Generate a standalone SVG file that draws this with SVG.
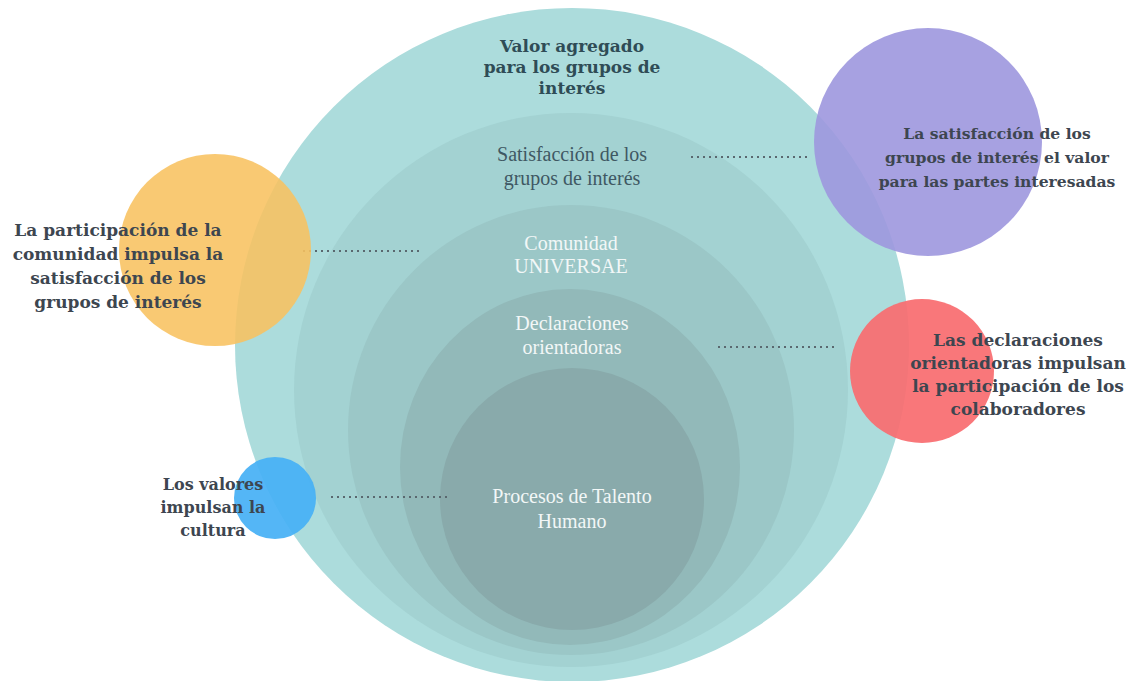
<svg xmlns="http://www.w3.org/2000/svg" width="1136" height="681" viewBox="0 0 1136 681">
<style>
.b{font-family:"DejaVu Serif","Liberation Serif",serif;font-weight:bold;font-size:17px;fill:#3d4650;text-anchor:middle}
.s{font-size:15.6px}
.v{font-size:16px}
.t{fill:#2f4c56}
.r{font-family:"Liberation Serif",serif;font-size:20px;text-anchor:middle}
.d{fill:#3f5863}
.w{fill:#f2f7f7}
.dot{stroke:#5a686f;stroke-width:2;stroke-dasharray:2 4;fill:none}
</style>
<rect width="1136" height="681" fill="#ffffff"/>
<g id="n-valor">
<circle cx="572" cy="345" r="337" fill="#acdcdc"/>
<text class="b t" x="572" y="52">Valor agregado</text>
<text class="b t" x="572" y="73">para los grupos de</text>
<text class="b t" x="572" y="94">interés</text>
</g>
<g id="n-satisfaccion">
<circle cx="571" cy="390" r="277" fill="#a3d2d2"/>
<text class="r d" x="572" y="161">Satisfacción de los</text>
<text class="r d" x="572" y="185">grupos de interés</text>
</g>
<g id="n-comunidad">
<ellipse cx="571" cy="430" rx="223" ry="225" fill="#9bc7c7"/>
<text class="r w" x="571" y="250">Comunidad</text>
<text class="r w" x="571" y="273">UNIVERSAE</text>
</g>
<g id="n-declaraciones">
<ellipse cx="570" cy="467" rx="170" ry="178" fill="#92b9b9"/>
<text class="r w" x="572" y="330">Declaraciones</text>
<text class="r w" x="572" y="354">orientadoras</text>
</g>
<g id="n-procesos">
<ellipse cx="572" cy="499" rx="132" ry="131" fill="#89aaab"/>
<text class="r w" x="572" y="503">Procesos de Talento</text>
<text class="r w" x="572" y="528">Humano</text>
</g>
<g id="connectors">
<line class="dot" x1="691" y1="157" x2="808" y2="157"/>
<line class="dot" x1="303" y1="251" x2="420" y2="251"/>
<line class="dot" x1="718" y1="347" x2="835" y2="347"/>
<line class="dot" x1="331" y1="497" x2="448" y2="497"/>
</g>
<g id="n-comunidad-impulsa">
<circle cx="215" cy="250" r="96" fill="#f8c160" fill-opacity="0.88"/>
<text class="b" x="118" y="236">La participación de la</text>
<text class="b" x="118" y="260">comunidad impulsa la</text>
<text class="b" x="118" y="284">satisfacción de los</text>
<text class="b" x="118" y="308">grupos de interés</text>
</g>
<g id="n-satisfaccion-valor">
<circle cx="928" cy="142" r="114" fill="#9d97de" fill-opacity="0.9"/>
<text class="b s" x="997" y="139">La satisfacción de los</text>
<text class="b s" x="997" y="163">grupos de interés el valor</text>
<text class="b s" x="997" y="187">para las partes interesadas</text>
</g>
<g id="n-declaraciones-impulsan">
<circle cx="922" cy="371" r="72" fill="#f96b6f" fill-opacity="0.92"/>
<text class="b" x="1018" y="346">Las declaraciones</text>
<text class="b" x="1018" y="369">orientadoras impulsan</text>
<text class="b" x="1018" y="392">la participación de los</text>
<text class="b" x="1018" y="415">colaboradores</text>
</g>
<g id="n-valores">
<circle cx="275" cy="498" r="41" fill="#45b0f5" fill-opacity="0.92"/>
<text class="b v" x="213" y="490">Los valores</text>
<text class="b v" x="213" y="513">impulsan la</text>
<text class="b v" x="213" y="536">cultura</text>
</g>
</svg>
